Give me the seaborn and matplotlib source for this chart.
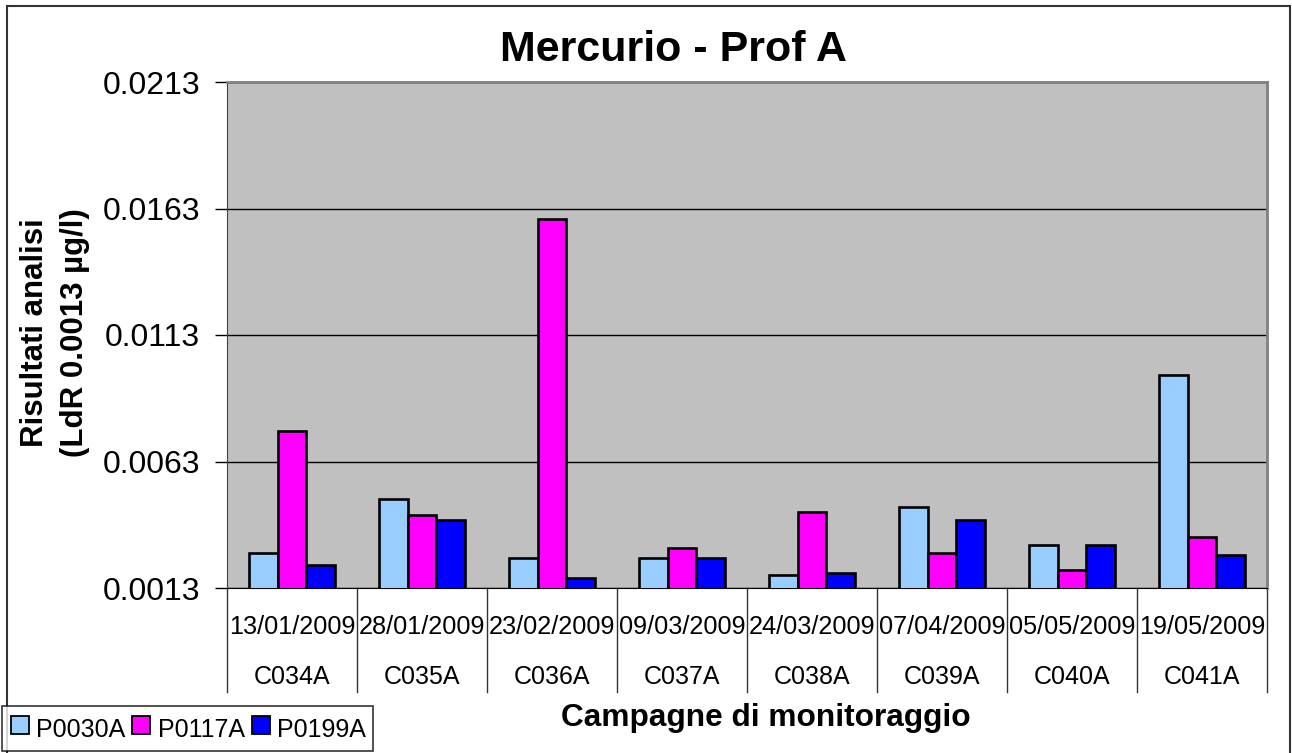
import pandas as pd
import seaborn as sns
import matplotlib.pyplot as plt
import matplotlib.transforms as mtransforms
import numpy as np
from matplotlib.patches import Rectangle
from matplotlib.lines import Line2D

# dati
campagne = ["C034A", "C035A", "C036A", "C037A", "C038A", "C039A", "C040A", "C041A"]
date = ["13/01/2009", "28/01/2009", "23/02/2009", "09/03/2009",
        "24/03/2009", "07/04/2009", "05/05/2009", "19/05/2009"]
serie = ["P0030A", "P0117A", "P0199A"]
p0030a = [0.0027, 0.0048, 0.0025, 0.0025, 0.0018, 0.0045, 0.0030, 0.0097]
p0117a = [0.0075, 0.0042, 0.0159, 0.0029, 0.0043, 0.0027, 0.0020, 0.0033]
p0199a = [0.0022, 0.0040, 0.0017, 0.0025, 0.0019, 0.0040, 0.0030, 0.0026]
y_ticks = [0.0013, 0.0063, 0.0113, 0.0163, 0.0213]
colori = ["#99CCFF", "#FF00FF", "#0000FF"]

data = pd.DataFrame({
    "campagna": campagne * 3,
    "serie": [s for s in serie for _ in campagne],
    "valore": p0030a + p0117a + p0199a,
})

plt.rcParams["font.family"] = ["Liberation Sans", "DejaVu Sans"]

fig = plt.figure(figsize=(12.92, 7.53), dpi=100)
ax = fig.add_axes([227 / 1292, 1 - 588 / 753, 1040 / 1292, 506 / 753])
ax.set_facecolor("#C0C0C0")

sns.barplot(data=data, x="campagna", y="valore", hue="serie", palette=colori,
            saturation=1, width=2 / 3, edgecolor="black", linewidth=1.9, ax=ax,
            legend=False, zorder=3)

# asse y
ax.set_ylim(y_ticks[0], y_ticks[-1])
ax.set_yticks(y_ticks)
ax.set_yticklabels(["%.4f" % v for v in y_ticks], fontsize=23)
ax.yaxis.grid(True, color="black", linewidth=1)
ax.set_axisbelow(True)
ax.tick_params(axis="y", direction="out", length=8.5, width=1, pad=11)
ax.set_ylabel("")

# asse x con due livelli di etichette (data + campagna)
ax.set_xlim(-0.5, len(campagne) - 0.5)
ax.set_xticks(range(len(campagne)))
ax.set_xticklabels([])
ax.tick_params(axis="x", length=0)
ax.set_xlabel("")
trans = mtransforms.blended_transform_factory(ax.transData, ax.transAxes)
for i in range(len(campagne)):
    ax.text(i, -0.077, date[i], transform=trans, ha="center", va="center", fontsize=18.2)
    ax.text(i, -0.176, campagne[i], transform=trans, ha="center", va="center", fontsize=18)
for b in np.arange(-0.5, len(campagne)):
    ax.plot([b, b], [0, -0.206], transform=trans, color="#333333", lw=1, clip_on=False)

for s in ["top", "right"]:
    ax.spines[s].set_color("#808080")
    ax.spines[s].set_linewidth(2)
ax.spines["left"].set_color("#404040")
ax.spines["bottom"].set_color("black")

# testi
fig.text(673 / 1292, 1 - 50 / 753, "Mercurio - Prof A", ha="center", va="center",
         fontsize=31, fontweight="bold")
fig.text(766 / 1292, 1 - 718 / 753, "Campagne di monitoraggio", ha="center", va="center",
         fontsize=22.8, fontweight="bold")
fig.text(55 / 1292, 1 - 333 / 753, "Risultati analisi\n(LdR 0.0013 µg/l)", rotation=90,
         ha="center", va="center", multialignment="center", fontsize=22.5,
         fontweight="bold", linespacing=1.45)

# legenda con quadratini
handles = [Line2D([], [], linestyle="none", marker="s", markersize=13.5,
                  markerfacecolor=c, markeredgecolor="black", markeredgewidth=1.3)
           for c in colori]
leg = fig.legend(handles, serie, loc="upper left", bbox_to_anchor=(2 / 1292, 1 - 706 / 753),
                 ncol=3, fontsize=18, frameon=True, fancybox=False, edgecolor="black",
                 handlelength=0.8, handleheight=1.45, handletextpad=0.25,
                 columnspacing=0.25, borderpad=0.3, borderaxespad=0)
leg.get_frame().set_linewidth(1.2)

# cornice esterna
fig.patches.append(Rectangle((7 / 1292, -0.02), 1283 / 1292, 1 - 6 / 753 + 0.02,
                             transform=fig.transFigure, fill=False,
                             edgecolor="#333333", linewidth=1.5))

fig.savefig("out.png", dpi=100)
